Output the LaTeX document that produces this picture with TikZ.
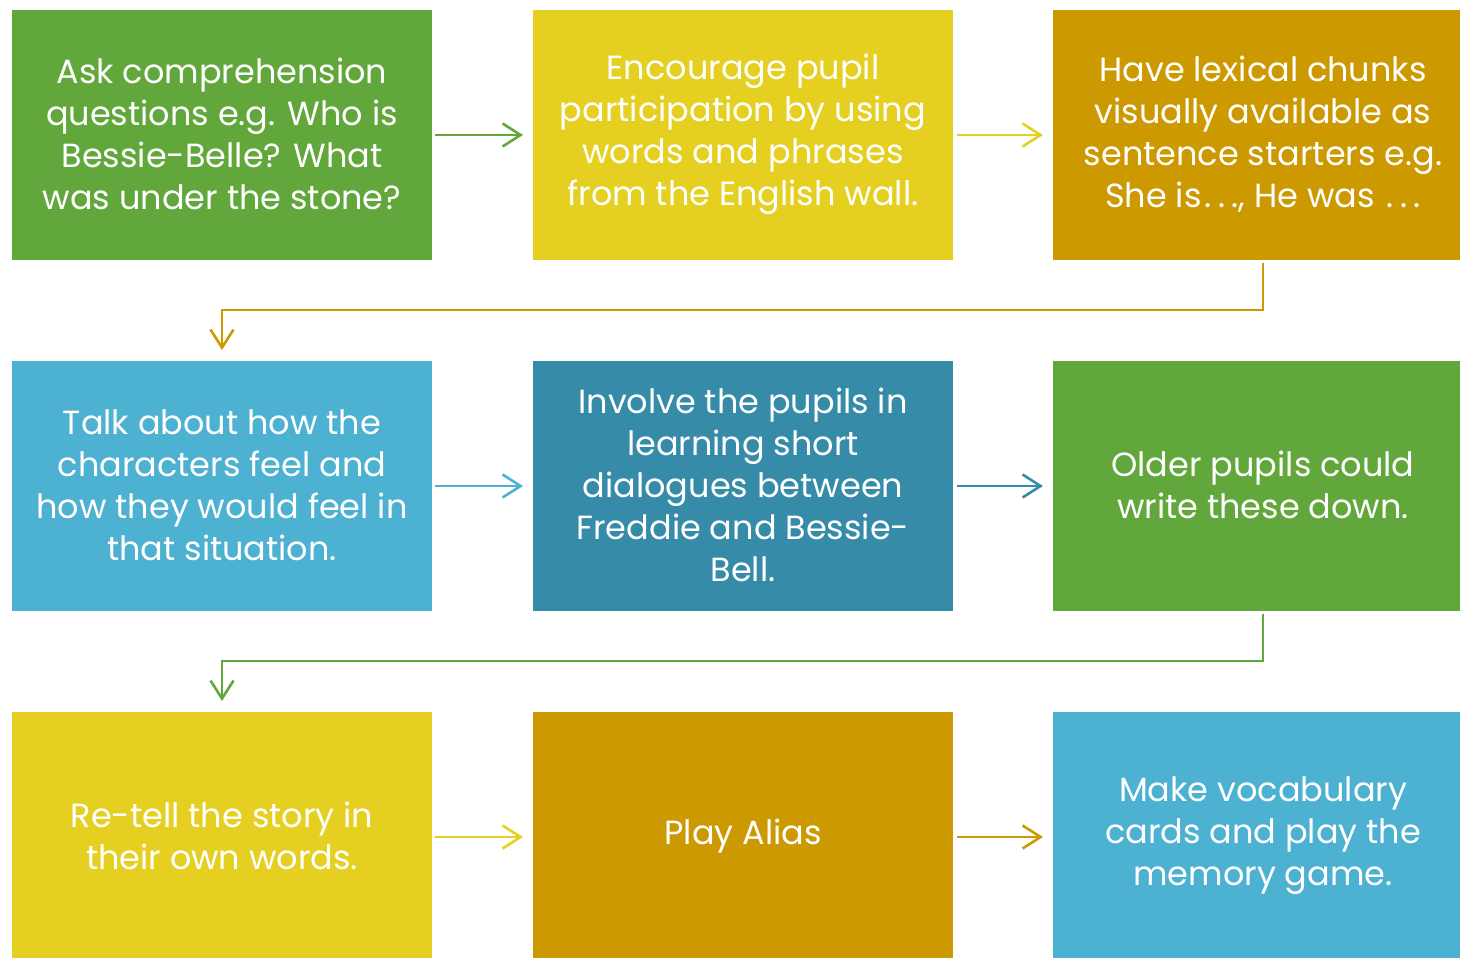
\documentclass[tikz,border=0pt]{standalone}
\usepackage{fontspec}
\setmainfont{Poppins}
\usetikzlibrary{arrows.meta}
\definecolor{cgreen}{HTML}{62A73B}
\definecolor{cyellow}{HTML}{E5D022}
\definecolor{cgold}{HTML}{CC9A00}
\definecolor{clblue}{HTML}{4DB1D1}
\definecolor{cteal}{HTML}{358BA8}
% a loosely set ellipsis
\newcommand\wideellipsis{\kern0.08em.\kern0.2em.\kern0.2em.}
\begin{document}
\begin{tikzpicture}[x=1pt,y=-1pt,
  stepbox/.style={rectangle,inner sep=0pt,text=white,align=center,
    font=\fontsize{33.5}{42}\selectfont},
  link/.style={line width=2.6pt,-{Straight Barb[length=18pt,width=23pt,line width=2.6pt]}}]
\useasboundingbox (0,0) rectangle (1460,958);
% row 1
\fill[cgreen]  (12,10) rectangle (432,260);
\fill[cyellow] (533,10) rectangle (953,260);
\fill[cgold]   (1053,10) rectangle (1460,260);
\node[stepbox] (a1) at (222,134) {Ask comprehension\\questions e.g. Who is\\Bessie-Belle? What\\was under the stone?};
\node[stepbox] (a2) at (743,134) {Encourage pupil\\participation by using\\words and phrases\\from the English wall.};
\node[stepbox] (a3) at (1263,134) {Have lexical chunks\\visually available as\\sentence starters e.g.\\She is\wideellipsis, He was \wideellipsis};
% row 2
\fill[clblue] (12,361) rectangle (432,611);
\fill[cteal]  (533,361) rectangle (953,611);
\fill[cgreen] (1053,361) rectangle (1460,611);
\node[stepbox] (b1) at (222,485) {Talk about how the\\characters feel and\\how they would feel in\\that situation.};
\node[stepbox] (b2) at (743,485) {Involve the pupils in\\learning short\\dialogues between\\Freddie and Bessie-\\Bell.};
\node[stepbox] (b3) at (1263,485) {Older pupils could\\write these down.};
% row 3
\fill[cyellow] (12,712) rectangle (432,958);
\fill[cgold]   (533,712) rectangle (953,958);
\fill[clblue]  (1053,712) rectangle (1460,958);
\node[stepbox] (c1) at (222,836) {Re-tell the story in\\their own words.};
\node[stepbox] (c2) at (743,836) {Play Alias};
\node[stepbox] (c3) at (1263,836) {Make vocabulary\\cards and play the\\memory game.};
% end points of the connectors
\coordinate (a1e) at (435,135);  \coordinate (a2w) at (523,135);
\coordinate (a2e) at (957,135);  \coordinate (a3w) at (1043,135);
\coordinate (b1e) at (435,486);  \coordinate (b2w) at (523,486);
\coordinate (b2e) at (957,486);  \coordinate (b3w) at (1043,486);
\coordinate (c1e) at (435,837);  \coordinate (c2w) at (523,837);
\coordinate (c2e) at (957,837);  \coordinate (c3w) at (1043,837);
\coordinate (a3s) at (1263,263); \coordinate (b1n) at (222,350);
\coordinate (b3s) at (1263,614); \coordinate (c1n) at (222,701);
% connectors
\draw[link,cgreen]  (a1e) -- (a2w);
\draw[link,cyellow] (a2e) -- (a3w);
\draw[link,cgold]   (a3s) |- (742,310) -| (b1n);
\draw[link,clblue]  (b1e) -- (b2w);
\draw[link,cteal]   (b2e) -- (b3w);
\draw[link,cgreen]  (b3s) |- (742,661) -| (c1n);
\draw[link,cyellow] (c1e) -- (c2w);
\draw[link,cgold]   (c2e) -- (c3w);
\end{tikzpicture}
\end{document}
